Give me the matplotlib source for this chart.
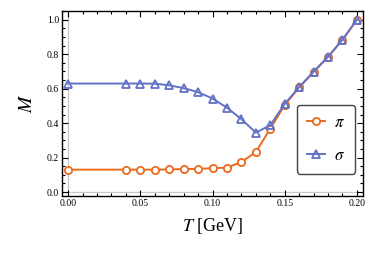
import matplotlib
matplotlib.use("Agg")
import matplotlib.pyplot as plt
from matplotlib.ticker import MultipleLocator, FormatStrFormatter

T = [0.00, 0.04, 0.05, 0.06, 0.07, 0.08, 0.09, 0.10, 0.11, 0.12, 0.13,
     0.14, 0.15, 0.16, 0.17, 0.18, 0.19, 0.20]
M_pi = [0.130, 0.130, 0.130, 0.130, 0.131, 0.133, 0.135, 0.138, 0.142, 0.174,
        0.232, 0.368, 0.505, 0.607, 0.697, 0.784, 0.884, 1.000]
M_sigma = [0.630, 0.630, 0.630, 0.629, 0.620, 0.603, 0.580, 0.543, 0.490,
           0.423, 0.345, 0.388, 0.512, 0.609, 0.699, 0.785, 0.885, 1.000]

orange = "#EC6A1E"
blue = "#6272C6"

plt.rcParams["font.family"] = ["Liberation Serif", "DejaVu Serif"]
plt.rcParams["mathtext.fontset"] = "stix"

fig = plt.figure(figsize=(3.74, 2.59), dpi=100)
ax = fig.add_axes([62/374, 1-196/259, (363-62)/374, (196-10.5)/259])

ax.axvline(0, color="#c8c8c8", lw=0.9, zorder=0)
ax.axhline(0, color="#c8c8c8", lw=0.9, zorder=0)

ax.plot(T, M_pi, "-o", color=orange, lw=1.4, ms=5.2, mfc="white", mec=orange,
        mew=1.3, label=r"$\pi$", zorder=3)
ax.plot(T, M_sigma, "-^", color=blue, lw=1.4, ms=6, mfc="none", mec=blue,
        mew=1.3, label=r"$\sigma$", zorder=4)

ax.set_xlim(-0.0042, 0.2042)
ax.set_ylim(-0.023, 1.054)

ax.xaxis.set_major_locator(MultipleLocator(0.05))
ax.xaxis.set_minor_locator(MultipleLocator(0.01))
ax.yaxis.set_major_locator(MultipleLocator(0.2))
ax.yaxis.set_minor_locator(MultipleLocator(0.05))
ax.xaxis.set_major_formatter(FormatStrFormatter("%.2f"))
ax.yaxis.set_major_formatter(FormatStrFormatter("%.1f"))
ax.tick_params(which="both", direction="in", top=True, right=True,
               labelsize=7, pad=2, width=0.8, color="black")
ax.tick_params(which="major", length=4)
ax.tick_params(which="minor", length=2)
for s in ax.spines.values():
    s.set_linewidth(1.0)

ax.set_xlabel(r"$T$ [GeV]", fontsize=13, labelpad=6)
ax.set_ylabel(r"$M$", fontsize=14, labelpad=8)

leg = ax.legend(loc="upper left", bbox_to_anchor=((297-62)/301, 1-(105-10.5)/185.5),
                fontsize=12, frameon=True, fancybox=True, edgecolor="#444444",
                handlelength=1.1, labelspacing=1.0, borderpad=0.6,
                handletextpad=0.55, borderaxespad=0, framealpha=1)
leg.get_frame().set_linewidth(1.0)

fig.savefig("out.png", dpi=100)
